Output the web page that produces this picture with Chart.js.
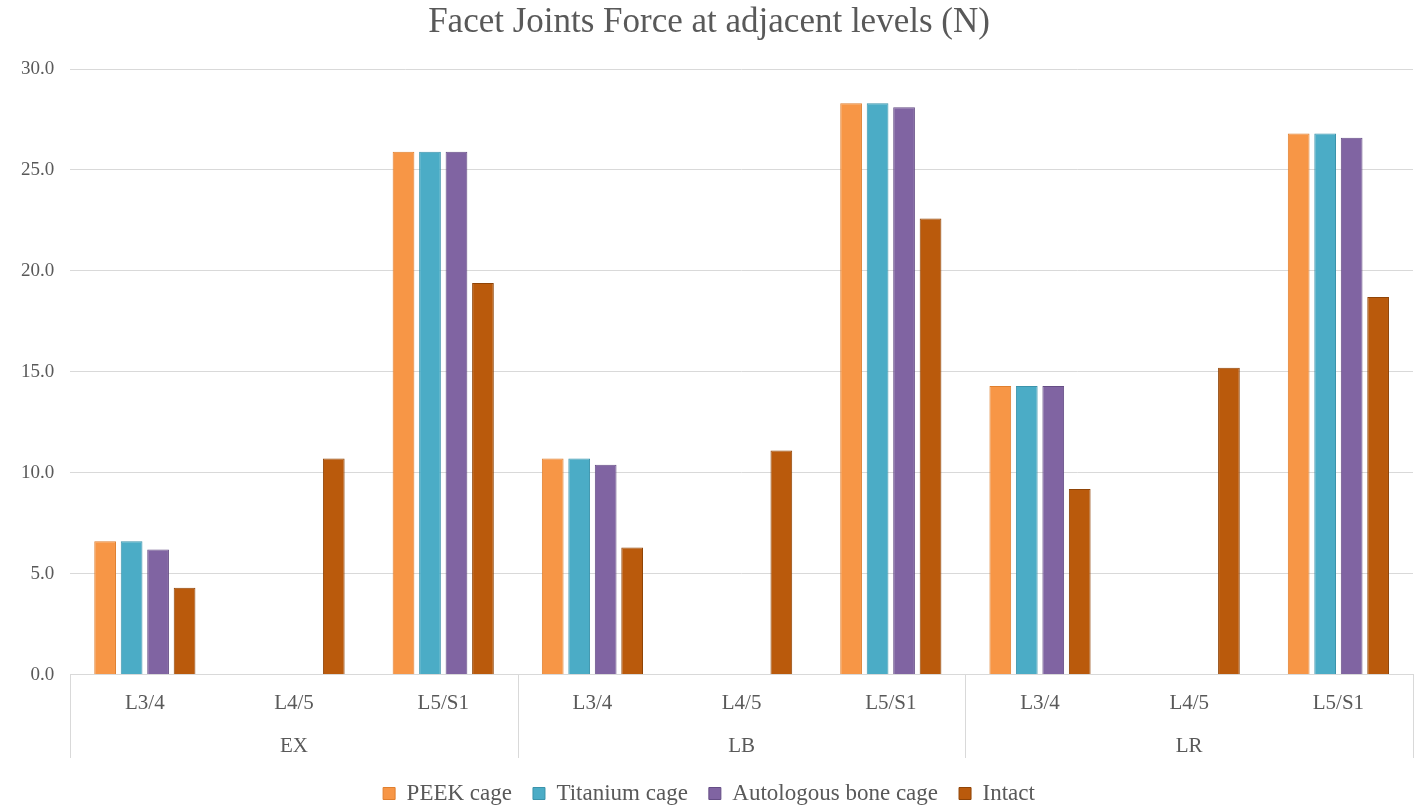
<!DOCTYPE html>
<html>
<head>
<meta charset="utf-8">
<script src="https://cdn.jsdelivr.net/npm/chart.js@4"></script>
<style>
  html, body { margin: 0; padding: 0; background: #fff; }
  #wrap { width: 1418px; height: 807px; }
</style>
</head>
<body>
<div id="wrap"><canvas id="myChart" width="1418" height="807"></canvas></div>
<script>
// levels on the x axis, repeated for each motion
const levels = ["L3/4", "L4/5", "L5/S1", "L3/4", "L4/5", "L5/S1", "L3/4", "L4/5", "L5/S1"];
const motions = ["EX", "LB", "LR"];

// facet joint force (N)
const peekCage = [6.6, null, 25.9, 10.7, null, 28.3, 14.3, null, 26.8];
const titaniumCage = [6.6, null, 25.9, 10.7, null, 28.3, 14.3, null, 26.8];
const boneCage = [6.2, null, 25.9, 10.4, null, 28.1, 14.3, null, 26.6];
const intact = [4.3, 10.7, 19.4, 6.3, 11.1, 22.6, 9.2, 15.2, 18.7];

const yTicks = [0, 5, 10, 15, 20, 25, 30];

const SERIF = "'Liberation Serif', 'DejaVu Serif', serif";
const TEXT = "#595959";
const GRID = "#d9d9d9";

// vertical lines between the motion groups, below the plot
const groupLines = {
    id: "groupLines",
    afterDraw(chart) {
        const x = chart.scales.x;
        const x2 = chart.scales.x2;
        const half = (x.getPixelForValue(1) - x.getPixelForValue(0)) / 2;
        const ctx = chart.ctx;
        ctx.save();
        ctx.strokeStyle = GRID;
        ctx.lineWidth = 1;
        [0, 3, 6, 9].forEach(i => {
            let px = i < levels.length ? x.getPixelForValue(i) - half : x.getPixelForValue(i - 1) + half;
            px = Math.round(px) + 0.5;
            ctx.beginPath();
            ctx.moveTo(px, chart.chartArea.bottom);
            ctx.lineTo(px, x2.bottom - 3);
            ctx.stroke();
        });
        ctx.restore();
    }
};

function series(label, data, color, border) {
    return {
        label: label,
        data: data,
        backgroundColor: color,
        borderColor: border,
        borderWidth: 1,
        barPercentage: 0.82,
        categoryPercentage: 0.71
    };
}

const ctx = document.getElementById("myChart");
new Chart(ctx, {
    type: "bar",
    data: {
        labels: levels,
        datasets: [
            series("PEEK cage", peekCage, "#F79646", "#e07f2e"),
            series("Titanium cage", titaniumCage, "#4BACC6", "#3b93ab"),
            series("Autologous bone cage", boneCage, "#8064A2", "#654d85"),
            series("Intact", intact, "#BA5A0C", "#8f4407")
        ]
    },
    options: {
        responsive: false,
        animation: false,
        layout: { padding: { left: 5, right: 5, top: 0, bottom: -8 } },
        scales: {
            y: {
                min: 0,
                max: 30,
                afterBuildTicks: axis => { axis.ticks = yTicks.map(v => ({ value: v })); },
                ticks: {
                    padding: 16,
                    color: TEXT,
                    font: { family: SERIF, size: 19 },
                    callback: v => Number(v).toFixed(1)
                },
                grid: { color: GRID, drawTicks: false },
                border: { display: false }
            },
            x: {
                weight: 0,
                ticks: { padding: 8, color: TEXT, font: { family: SERIF, size: 21 } },
                grid: { display: false },
                border: { color: GRID }
            },
            x2: {
                type: "category",
                labels: motions,
                position: "bottom",
                weight: 1,
                offset: true,
                ticks: { padding: 2, color: TEXT, font: { family: SERIF, size: 21 } },
                grid: { display: false },
                border: { display: false }
            }
        },
        plugins: {
            title: {
                display: true,
                text: "Facet Joints Force at adjacent levels (N)",
                color: TEXT,
                font: { family: SERIF, size: 35, weight: "normal" },
                padding: { top: 2, bottom: 25 }
            },
            legend: {
                position: "bottom",
                labels: {
                    color: TEXT,
                    font: { family: SERIF, size: 23 },
                    boxWidth: 12,
                    boxHeight: 12,
                    padding: 21
                }
            },
            tooltip: { enabled: false }
        }
    },
    plugins: [groupLines]
});
</script>
</body>
</html>
